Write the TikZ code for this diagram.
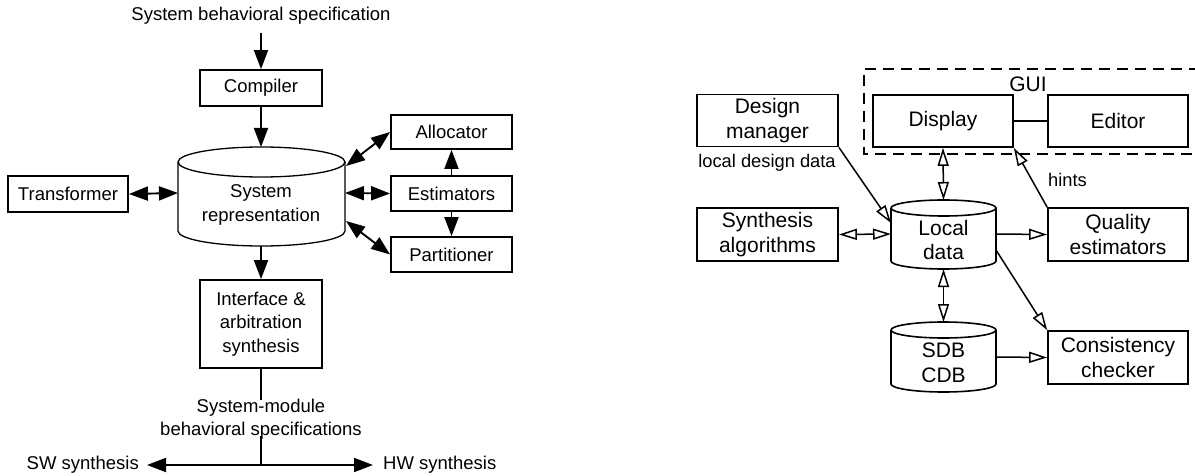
\documentclass[tikz,border=0pt]{standalone}
\usepackage{fontspec}
\setmainfont{Liberation Sans}
\usetikzlibrary{arrows.meta}
\begin{document}
\begin{tikzpicture}[x=1pt,y=-1pt,
  lbox/.style={draw,line width=1.8pt,inner sep=0pt,align=center,font=\fontsize{18.5}{23.5}\selectfont},
  rbox/.style={draw,line width=1.8pt,inner sep=0pt,align=center,font=\fontsize{21}{24.5}\selectfont,minimum width=141pt,minimum height=52pt},
  ltxt/.style={inner sep=0pt,align=center,font=\fontsize{18.5}{23.5}\selectfont},
  rtxt/.style={inner sep=0pt,align=center,font=\fontsize{21}{24.5}\selectfont},
  stxt/.style={inner sep=0pt,align=center,font=\fontsize{18.3}{22}\selectfont},
  ltip/.tip={Triangle[length=19pt,width=14pt]},
  rtip/.tip={Triangle[open,length=18pt,width=11pt,fill=white]},
  larr/.style={line width=1.9pt,-ltip},
  ldarr/.style={line width=1.9pt,ltip-ltip},
  rarr/.style={line width=1.5pt,-rtip},
  rdarr/.style={line width=1.5pt,rtip-rtip},
  plain/.style={line width=1.9pt}]
\useasboundingbox (0,0) rectangle (1195,476);

% ---------------- left diagram ----------------
\node[ltxt] (title) at (261,16) {System behavioral specification};
\node[lbox,minimum width=122pt,minimum height=36pt] (comp) at (261,88) {Compiler};
% cylinder
\draw[line width=1.3pt] (178,162) arc[start angle=180,end angle=-180,x radius=83.5pt,y radius=15pt];
\draw[line width=1.3pt] (178,162) -- (178,231) arc[start angle=180,end angle=360,x radius=83.5pt,y radius=15pt] -- (345,162);
\node[ltxt] (sysrep) at (261,205) {System\\representation};
\coordinate (cyltop) at (261,147);
\coordinate (cylbot) at (261,246);
\coordinate (cylw) at (178,193);
\coordinate (cyle) at (345,193);
\coordinate (cylne) at (346,166);
\coordinate (cylse) at (346,221);

\node[lbox,minimum width=120pt,minimum height=36pt] (trans) at (68,194) {Transformer};
\node[lbox,minimum width=121pt,minimum height=34pt] (alloc) at (451.5,132) {Allocator};
\node[lbox,minimum width=121pt,minimum height=35pt] (est) at (451.5,193.5) {Estimators};
\node[lbox,minimum width=121pt,minimum height=35pt] (part) at (451.5,254.5) {Partitioner};
\node[lbox,minimum width=122pt,minimum height=88pt] (iface) at (261,324) {Interface \&\\arbitration\\synthesis};
\node[ltxt] (smod) at (261,419) {System-module\\behavioral specifications};
\coordinate (junc) at (261,465);
\node[ltxt,anchor=east] (sw) at (139,465) {SW synthesis};
\node[ltxt,anchor=west] (hw) at (383,465) {HW synthesis};

\draw[larr,shorten <=8pt] (title.south) -- (comp.north);
\draw[larr] (comp.south) -- (cyltop);
\draw[larr] (cylbot) -- (iface.north);
\draw[ldarr] (trans.east) -- (cylw);
\draw[ldarr] (cylne) -- (alloc.west);
\draw[ldarr] (cyle) -- (est.west);
\draw[ldarr] (cylse) -- (part.west);
\draw[larr] (est.north) -- (alloc.south);
\draw[larr] (est.south) -- (part.north);
\draw[plain] (iface.south) -- ([yshift=-2pt]smod.north);
\draw[plain] ([yshift=4pt]smod.south) -- (junc);
\draw[larr,shorten >=8pt] (junc) -- (sw.east);
\draw[larr,shorten >=10pt] (junc) -- (hw.west);

% ---------------- right diagram ----------------
\draw[line width=1.5pt,dash pattern=on 11pt off 7pt] (1200,69) -- (864,69) -- (864,154) -- (1200,154);
\node[rtxt] (gui) at (1028,84) {GUI};
\node[rbox,minimum width=140pt] (disp) at (943,121) {Display};
\node[rbox,minimum width=140pt] (edit) at (1118,121) {Editor};
\node[rbox] (dm) at (767.5,120.5) {Design\\manager};
\node[stxt] (ldd) at (767,163) {local design data};
\node[rbox,minimum height=53pt] (synth) at (767.5,234.5) {Synthesis\\algorithms};
\node[rbox,minimum width=140pt,minimum height=53pt] (qual) at (1118,234.5) {Quality\\estimators};
\node[rbox,minimum width=140pt,minimum height=53pt] (cons) at (1118,357.5) {Consistency\\checker};
\node[stxt,anchor=west] (hints) at (1048,180) {hints};

% Local data cylinder
\draw[line width=1.6pt] (891,208) arc[start angle=180,end angle=-180,x radius=52.5pt,y radius=8pt];
\draw[line width=1.6pt] (891,208) -- (891,261) arc[start angle=180,end angle=360,x radius=52.5pt,y radius=8pt] -- (996,208);
\node[rtxt] (ld) at (943.5,240) {Local\\data};
\coordinate (ldtop) at (943.5,200);
\coordinate (ldbot) at (943.5,269);
\coordinate (ldw) at (891,234);
\coordinate (ldnw) at (891,223);
\coordinate (lde) at (996,234);
\coordinate (ldse) at (996,250);

% SDB cylinder
\draw[line width=1.6pt] (891,330) arc[start angle=180,end angle=-180,x radius=52.5pt,y radius=8pt];
\draw[line width=1.6pt] (891,330) -- (891,384) arc[start angle=180,end angle=360,x radius=52.5pt,y radius=8pt] -- (996,330);
\node[rtxt] (sdb) at (943.5,363) {SDB\\CDB};
\coordinate (sdbtop) at (943.5,322);
\coordinate (sdbe) at (996,357);

\draw[plain] (disp.east) -- (edit.west);
\draw[rdarr] (disp.south) -- (ldtop);
\draw[rarr] (dm.south east) -- (ldnw);
\draw[rdarr] (synth.east) -- (ldw);
\draw[rarr] (lde) -- (qual.west);
\draw[rarr] (qual.north west) -- (disp.south east);
\draw[rarr] (ldse) -- (cons.north west);
\draw[rdarr] (ldbot) -- (sdbtop);
\draw[rarr] (sdbe) -- (cons.west);
\end{tikzpicture}
\end{document}
